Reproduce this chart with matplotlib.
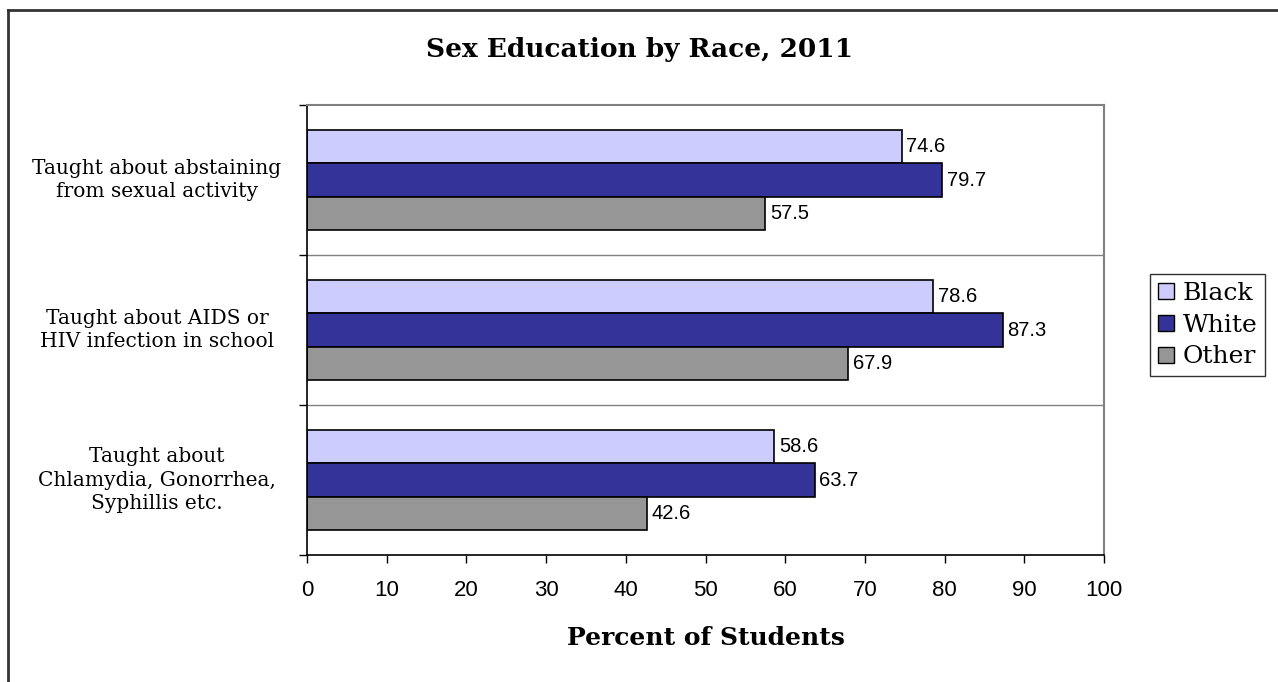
import matplotlib
matplotlib.use("Agg")
import matplotlib.pyplot as plt
from matplotlib.lines import Line2D
import numpy as np

categories = ["Taught about abstaining\nfrom sexual activity",
              "Taught about AIDS or\nHIV infection in school",
              "Taught about\nChlamydia, Gonorrhea,\nSyphillis etc."]
series_names = ["Black", "White", "Other"]
black = [74.6, 78.6, 58.6]
white = [79.7, 87.3, 63.7]
other = [57.5, 67.9, 42.6]
colors = ["#CCCCFF", "#333399", "#969696"]
xticks = list(range(0, 101, 10))

fig = plt.figure(figsize=(12.78, 6.82), dpi=100)
ax = fig.add_axes([307/1278, 1-555/682, (1104-307)/1278, (555-105)/682])

n = len(categories)
ypos = np.arange(n)[::-1]  # top category at top
h = 0.2222
offsets = [h, 0, -h]
for vals, off, c, name in zip([black, white, other], offsets, colors, series_names):
    bars = ax.barh(ypos + off, vals, height=h, color=c, edgecolor="black", linewidth=1.2, label=name)
    for b, v in zip(bars, vals):
        ax.text(v + 0.6, b.get_y() + b.get_height()/2, f"{v:.1f}", va="center", ha="left",
                fontsize=14.5, family="Liberation Sans")

ax.set_xlim(0, 100)
ax.set_ylim(-0.5, n - 0.5)
ax.set_xticks(xticks)
ax.set_xticklabels([str(t) for t in xticks], fontsize=16, family="Liberation Sans")
ax.tick_params(axis="x", length=6, width=1, color="black", pad=12, direction="out")

# category boundary ticks on y axis
bounds = np.arange(-0.5, n, 1.0)
ax.set_yticks(bounds)
ax.set_yticklabels([""] * len(bounds))
ax.tick_params(axis="y", length=6, width=1, color="black", direction="out")
for yb in bounds[1:-1]:
    ax.axhline(yb, color="#808080", linewidth=1)
for yc, lab in zip(ypos, categories):
    ax.annotate(lab, xy=(0, yc), xycoords=("axes fraction", "data"), xytext=(-108, 0),
                textcoords="offset points", ha="center", va="center", fontsize=14.5,
                family="DejaVu Serif", linespacing=1.3)

ax.spines["left"].set_color("black")
ax.spines["left"].set_linewidth(1.2)
ax.spines["bottom"].set_color("black")
ax.spines["bottom"].set_linewidth(1.2)
ax.spines["top"].set_color("#808080")
ax.spines["right"].set_color("#808080")
ax.spines["top"].set_linewidth(1.5)
ax.spines["right"].set_linewidth(1.5)

ax.set_xlabel("Percent of Students", fontsize=18, fontweight="bold", family="DejaVu Serif", labelpad=18)
fig.text(0.5, 1-50/682, "Sex Education by Race, 2011", ha="center", va="center",
         fontsize=19, fontweight="bold", family="DejaVu Serif")

handles = [Line2D([0], [0], marker="s", linestyle="none", markersize=12,
                  markerfacecolor=c, markeredgecolor="black", markeredgewidth=1)
           for c in colors]
leg = fig.legend(handles, series_names, loc="center left", bbox_to_anchor=(1150/1278, 1-325/682),
                 prop={"family": "DejaVu Serif", "size": 18}, frameon=True, fancybox=False,
                 edgecolor="black", handlelength=0.7, handletextpad=0.3, borderpad=0.3,
                 labelspacing=0.35, borderaxespad=0)
leg.get_frame().set_linewidth(1.0)

# outer chart border (top and left visible)
fig.add_artist(Line2D([8/1278, 8/1278], [0, 1-10/682], transform=fig.transFigure, color="#333333", linewidth=2))
fig.add_artist(Line2D([8/1278, 1], [1-10/682, 1-10/682], transform=fig.transFigure, color="#333333", linewidth=2))

fig.savefig("out.png", dpi=100)
